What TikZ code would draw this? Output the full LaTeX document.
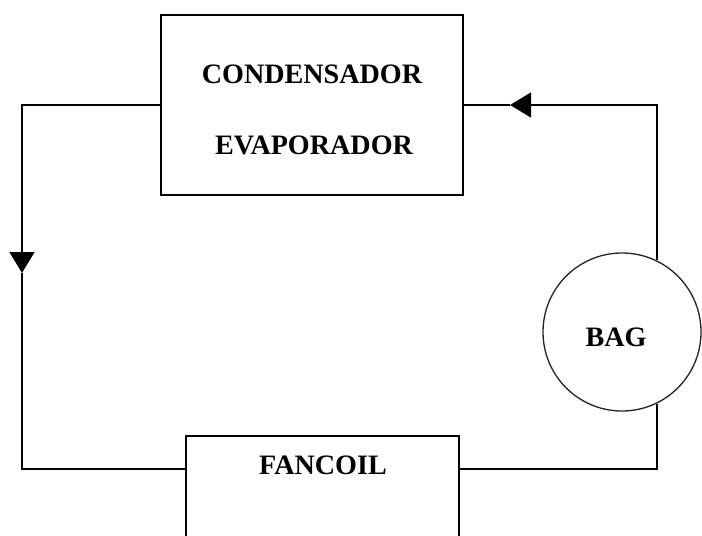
\documentclass[tikz,border=0pt]{standalone}
\usepackage{fontspec}
\setmainfont{Liberation Serif}
\usetikzlibrary{arrows.meta}

\tikzset{
  unit/.style={draw, line width=0.06cm, inner sep=0pt},
  tank/.style={draw=black!85, circle, line width=0.04cm, minimum size=4.74cm, inner sep=0pt},
  tag/.style={font=\fontsize{24}{28}\selectfont\bfseries, inner sep=0pt},
  wire/.style={line width=0.08cm},
  flow/.style={-{Triangle[length=0.63cm,width=0.74cm]}},
}

\begin{document}
\begin{tikzpicture}[x=0.03cm,y=-0.03cm]

    \useasboundingbox (0,0) rectangle (702,536);
    \clip (0,0) rectangle (702,536);

    % Units
    \node[unit, minimum width=9.06cm, minimum height=5.4cm] (cond) at (312,105) {};
    \node[tag] (condtxt) at (312,74) {CONDENSADOR};
    \node[tag] (evaptxt) at (314,145) {EVAPORADOR};

    \node[unit, minimum width=8.19cm, minimum height=3.6cm, anchor=north] (fan) at (322.5,435) {};
    \node[tag] (fantxt) at (323,465) {FANCOIL};

    \node[tank] (bag) at (622,332) {};
    \node[tag] (bagtxt) at (616,337) {BAG};

    % Flow points
    \coordinate (down) at (22,273);
    \coordinate (back) at (510,105);
    \coordinate (fanin) at ([yshift=-1.02cm]fan.north west);
    \coordinate (fanout) at ([yshift=-1.02cm]fan.north east);

    % Left branch
    \draw[wire, flow] (cond.west) -| (down);
    \draw[wire] (down) |- (fanin);

    % Right branch
    \draw[wire] (fanout) -| (bag.-64);
    \draw[wire, flow] (bag.64) |- (back);
    \draw[wire] (back) -- (cond.east);

\end{tikzpicture}
\end{document}
